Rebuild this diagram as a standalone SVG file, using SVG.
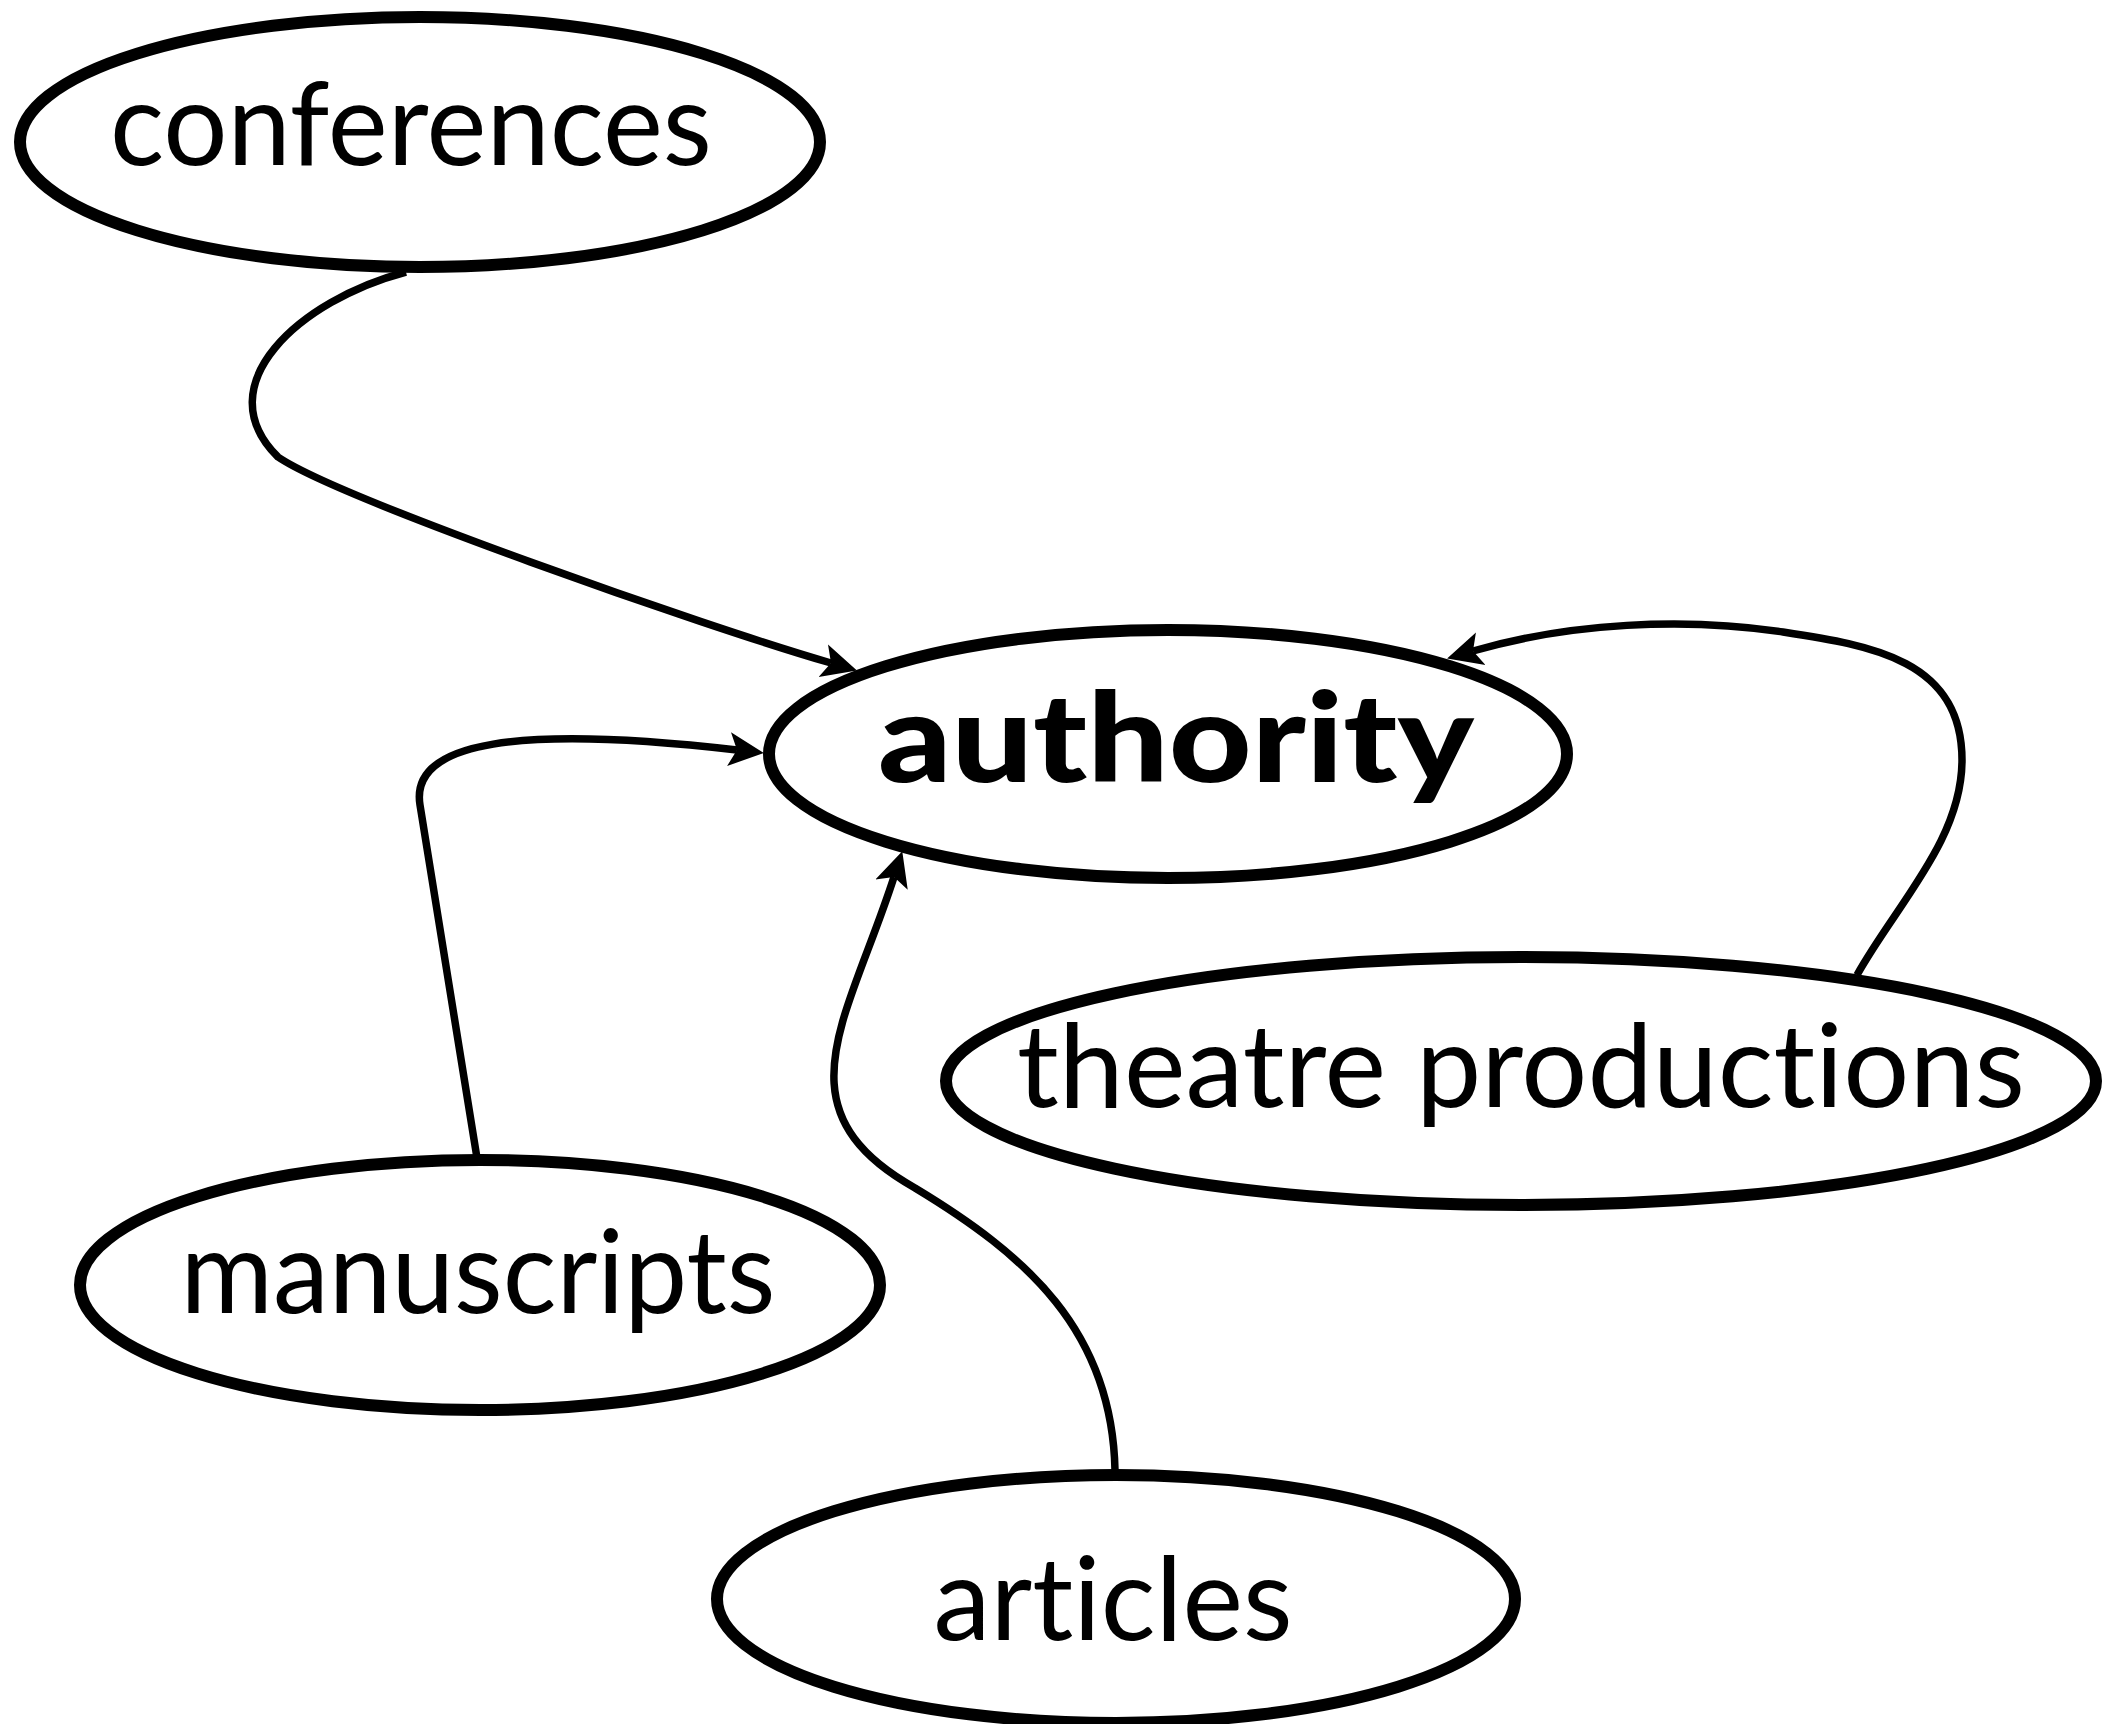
<svg xmlns="http://www.w3.org/2000/svg" width="2121" height="1724" viewBox="0 0 2121 1724">
<style>
.node ellipse{fill:#fff;stroke:#000;stroke-width:12}
.lbl{font-family:Lato,"Open Sans","Liberation Sans",sans-serif;font-size:116px;fill:#000;text-anchor:middle;font-variant-ligatures:none;font-feature-settings:"liga" 0,"clig" 0}
.bold{font-weight:900;font-size:124px}
.edge{fill:none;stroke:#000;stroke-width:7.5}
</style>
<defs>
<marker id="arr" markerUnits="userSpaceOnUse" markerWidth="40" markerHeight="40" viewBox="0 -20 40 40" refX="8" refY="0" orient="auto">
<path d="M35,0 L0,-17 L8,0 L0,17 Z" fill="#000"/>
</marker>
</defs>
<rect width="2121" height="1724" fill="#fff"/>
<g id="edges">
<path class="edge" marker-end="url(#arr)" d="M406,272 C300,300 205,385 278,457 C338,498 706,627 831,663"/>
<path class="edge" marker-end="url(#arr)" d="M477,1158 L420,805 C409.6,741 520,725 737,750"/>
<path class="edge" marker-end="url(#arr)" d="M1115,1470 C1112,1330 1026,1255 915,1188 C776,1110 848,1020 894,877"/>
<path class="edge" marker-end="url(#arr)" d="M1857,975 C1896,905 1962,840 1962,760 C1962,660 1872,645.5 1783,632 C1684,617 1569,623 1473,651"/>
</g>
<g id="conferences" class="node">
<ellipse cx="420" cy="142" rx="400" ry="125"/>
<text class="lbl" x="411" y="165" textLength="602" lengthAdjust="spacingAndGlyphs">conferences</text>
</g>
<g id="authority" class="node">
<ellipse cx="1168" cy="754" rx="399" ry="124"/>
<text class="lbl bold" x="1176" y="782" textLength="596" lengthAdjust="spacingAndGlyphs">authority</text>
</g>
<g id="theatre" class="node">
<ellipse cx="1521" cy="1081" rx="575" ry="124"/>
<text class="lbl" x="1521" y="1107" textLength="1008" lengthAdjust="spacingAndGlyphs">theatre productions</text>
</g>
<g id="manuscripts" class="node">
<ellipse cx="480" cy="1285" rx="400" ry="125"/>
<text class="lbl" x="478" y="1313" textLength="595" lengthAdjust="spacingAndGlyphs">manuscripts</text>
</g>
<g id="articles" class="node">
<ellipse cx="1116" cy="1599" rx="399" ry="124"/>
<text class="lbl" x="1113" y="1640" textLength="359" lengthAdjust="spacingAndGlyphs">articles</text>
</g>
</svg>
